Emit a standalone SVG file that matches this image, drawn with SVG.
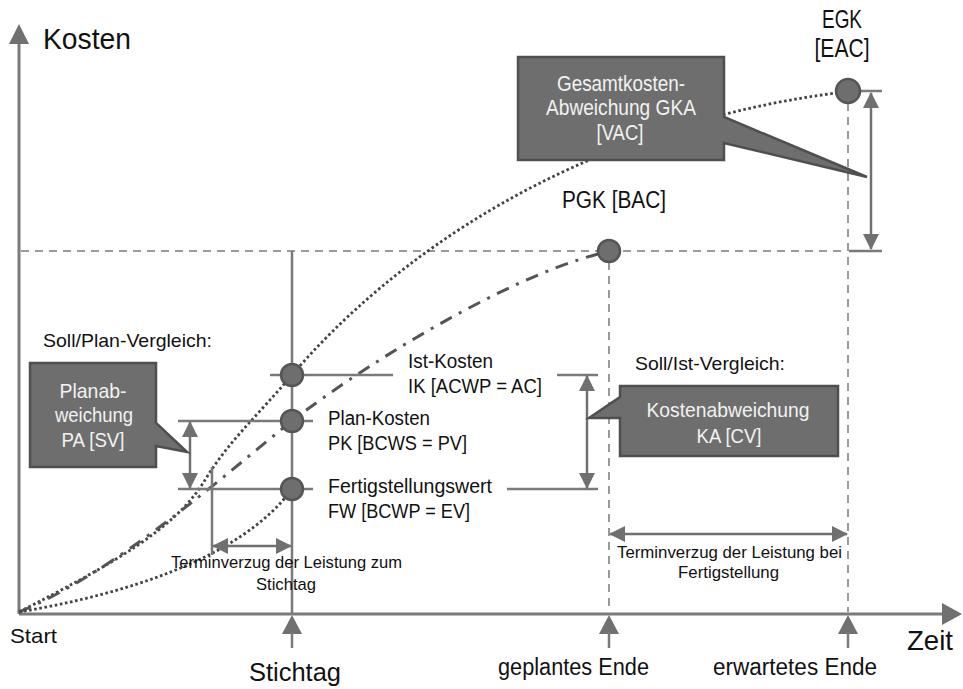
<svg xmlns="http://www.w3.org/2000/svg" width="963" height="689" viewBox="0 0 963 689">
  <style>
    .t { font-family: "Liberation Sans", Arial, sans-serif; fill: #111; }
    .c { font-family: "Liberation Sans", Arial, sans-serif; fill: #f2f2f2; text-anchor: middle; }
    .axis { stroke: #7a7a7a; stroke-width: 3; fill: none; }
    .guide { stroke: #7a7a7a; stroke-width: 1.5; stroke-dasharray: 8 6; fill: none; }
    .level { stroke: #7a7a7a; stroke-width: 2.5; fill: none; }
    .dim { stroke: #707070; stroke-width: 2.5; fill: none; marker-start: url(#head); marker-end: url(#head); }
    .dotted { stroke: #444; stroke-width: 2.8; stroke-dasharray: 2.6 2.6; fill: none; }
    .dashdot { stroke: #555; stroke-width: 3; stroke-dasharray: 13 8 3 8; fill: none; }
    .node { fill: #6e6e6e; stroke: #555; stroke-width: 2.5; }
    .box { fill: #6e6e6e; stroke: #4f4f4f; stroke-width: 2.5; stroke-linejoin: miter; }
    .tri { fill: #707070; }
  </style>
  <defs>
    <marker id="head" viewBox="0 0 16 16" refX="15" refY="8" markerWidth="16" markerHeight="16" markerUnits="userSpaceOnUse" orient="auto-start-reverse">
      <path d="M0,0 L16,8 L0,16 Z" fill="#707070"/>
    </marker>
  </defs>

  <rect width="963" height="689" fill="#fff"/>

  <!-- axes -->
  <g id="axes">
    <line class="axis" x1="19" y1="43" x2="19" y2="614"/>
    <line class="axis" x1="19" y1="614" x2="944" y2="614"/>
    <polygon class="tri" points="19,24 29,44 9,44"/>
    <polygon class="tri" points="962,614 942,603 942,625"/>
    <!-- time markers -->
    <polygon class="tri" points="292,615 302,634 282,634"/>
    <line class="level" x1="292" y1="632" x2="292" y2="648"/>
    <polygon class="tri" points="609,615 619,634 599,634"/>
    <line class="level" x1="609" y1="632" x2="609" y2="648"/>
    <polygon class="tri" points="848,615 858,634 838,634"/>
    <line class="level" x1="848" y1="632" x2="848" y2="648"/>
  </g>

  <g id="connectors">
    <!-- guide lines -->
    <line class="guide" x1="21" y1="251" x2="843" y2="251"/>
    <line class="guide" x1="609" y1="262" x2="609" y2="612"/>
    <line class="guide" x1="848" y1="103" x2="848" y2="612"/>
    <!-- reporting date line -->
    <line class="level" x1="292" y1="251" x2="292" y2="614"/>

    <!-- cost curves -->
    <path id="curve-ik" class="dotted" d="M19,612 C110,565 175,530 205,480 C228,442 258,415 292,375 C390,260 570,128 836,93"/>
    <path id="curve-pk" class="dashdot" d="M19,612 C120,570 230,470 292,421 C360,368 500,280 598,254"/>
    <path id="curve-fw" class="dotted" d="M19,612 C120,595 240,560 292,489"/>

    <!-- value levels -->
    <line class="level" x1="270" y1="375" x2="393" y2="375"/>
    <line class="level" x1="557" y1="375" x2="598" y2="375"/>
    <line class="level" x1="178" y1="421" x2="313" y2="421"/>
    <line class="level" x1="178" y1="489" x2="313" y2="489"/>
    <line class="level" x1="507" y1="489" x2="598" y2="489"/>
    <line class="level" x1="848" y1="91" x2="882" y2="91"/>
    <line class="level" x1="849" y1="251" x2="882" y2="251"/>
    <line class="level" x1="212" y1="467" x2="212" y2="555"/>

    <!-- dimension arrows -->
    <line class="dim" x1="190" y1="422" x2="190" y2="488"/>
    <line class="dim" x1="587" y1="376" x2="587" y2="488"/>
    <line class="dim" x1="871" y1="93" x2="871" y2="249"/>
    <line class="dim" x1="213" y1="546" x2="291" y2="546"/>
    <line class="dim" x1="610" y1="534" x2="847" y2="534"/>
  </g>

  <!-- value points -->
  <g id="node-ik"><circle class="node" cx="292" cy="375" r="11"/></g>
  <g id="node-pk"><circle class="node" cx="292" cy="421" r="11"/></g>
  <g id="node-fw"><circle class="node" cx="292" cy="489" r="11"/></g>
  <g id="node-pgk"><circle class="node" cx="609" cy="251" r="11"/></g>
  <g id="node-egk"><circle class="node" cx="848" cy="91" r="12"/></g>

  <!-- callouts -->
  <g id="callout-gka">
    <path class="box" d="M518,57 H724 V117 L867,177 L724,143 V160 H518 Z"/>
    <text class="c" x="621" y="91" font-size="22" textLength="128" lengthAdjust="spacingAndGlyphs">Gesamtkosten-</text>
    <text class="c" x="621" y="115" font-size="22" textLength="150" lengthAdjust="spacingAndGlyphs">Abweichung GKA</text>
    <text class="c" x="620" y="140" font-size="22" textLength="47" lengthAdjust="spacingAndGlyphs">[VAC]</text>
  </g>
  <g id="callout-pa">
    <path class="box" d="M30,363 H156 V423 L187,452 L156,446 V467 H30 Z"/>
    <text class="c" x="93" y="398" font-size="21" textLength="67" lengthAdjust="spacingAndGlyphs">Planab-</text>
    <text class="c" x="94" y="422" font-size="21" textLength="78" lengthAdjust="spacingAndGlyphs">weichung</text>
    <text class="c" x="93" y="447" font-size="21" textLength="63" lengthAdjust="spacingAndGlyphs">PA [SV]</text>
  </g>
  <g id="callout-ka">
    <path class="box" d="M620,386 H838 V456 H620 V418 L589,418 L620,397 Z"/>
    <text class="c" x="728" y="417" font-size="21" textLength="163" lengthAdjust="spacingAndGlyphs">Kostenabweichung</text>
    <text class="c" x="729" y="443" font-size="21" textLength="65" lengthAdjust="spacingAndGlyphs">KA [CV]</text>
  </g>

  <!-- labels -->
  <g id="labels">
    <text class="t" x="43" y="49" font-size="30" textLength="88" lengthAdjust="spacingAndGlyphs">Kosten</text>
    <text class="t" x="842" y="28" font-size="25" text-anchor="middle" textLength="40" lengthAdjust="spacingAndGlyphs">EGK</text>
    <text class="t" x="842" y="57" font-size="25" text-anchor="middle" textLength="55" lengthAdjust="spacingAndGlyphs">[EAC]</text>
    <text class="t" x="562" y="208" font-size="23" textLength="104" lengthAdjust="spacingAndGlyphs">PGK [BAC]</text>

    <text class="t" x="43" y="347" font-size="19" textLength="169" lengthAdjust="spacingAndGlyphs">Soll/Plan-Vergleich:</text>
    <text class="t" x="635" y="370" font-size="19" textLength="150" lengthAdjust="spacingAndGlyphs">Soll/Ist-Vergleich:</text>

    <text class="t" x="408" y="368" font-size="20" textLength="85" lengthAdjust="spacingAndGlyphs">Ist-Kosten</text>
    <text class="t" x="408" y="393" font-size="20" textLength="134" lengthAdjust="spacingAndGlyphs">IK [ACWP = AC]</text>
    <text class="t" x="328" y="425" font-size="20" textLength="102" lengthAdjust="spacingAndGlyphs">Plan-Kosten</text>
    <text class="t" x="328" y="450" font-size="20" textLength="139" lengthAdjust="spacingAndGlyphs">PK [BCWS = PV]</text>
    <text class="t" x="328" y="493" font-size="20" textLength="164" lengthAdjust="spacingAndGlyphs">Fertigstellungswert</text>
    <text class="t" x="328" y="518" font-size="20" textLength="142" lengthAdjust="spacingAndGlyphs">FW [BCWP = EV]</text>

    <text class="t" x="171" y="568" font-size="17" textLength="231" lengthAdjust="spacingAndGlyphs">Terminverzug der Leistung zum</text>
    <text class="t" x="256" y="590" font-size="17" textLength="60" lengthAdjust="spacingAndGlyphs">Stichtag</text>
    <text class="t" x="617" y="558" font-size="17" textLength="225" lengthAdjust="spacingAndGlyphs">Terminverzug der Leistung bei</text>
    <text class="t" x="678" y="578" font-size="17" textLength="101" lengthAdjust="spacingAndGlyphs">Fertigstellung</text>

    <text class="t" x="10" y="643" font-size="21" textLength="47" lengthAdjust="spacingAndGlyphs">Start</text>
    <text class="t" x="907" y="650" font-size="28" textLength="46" lengthAdjust="spacingAndGlyphs">Zeit</text>
    <text class="t" x="249" y="681" font-size="26" textLength="92" lengthAdjust="spacingAndGlyphs">Stichtag</text>
    <text class="t" x="498" y="675" font-size="23" textLength="151" lengthAdjust="spacingAndGlyphs">geplantes Ende</text>
    <text class="t" x="713" y="675" font-size="23" textLength="164" lengthAdjust="spacingAndGlyphs">erwartetes Ende</text>
  </g>
</svg>
